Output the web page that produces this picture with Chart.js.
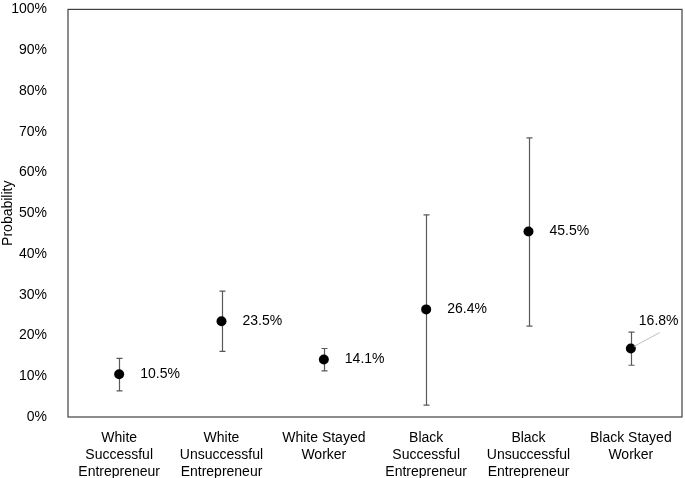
<!DOCTYPE html>
<html>
<head>
<meta charset="utf-8">
<script src="https://cdn.jsdelivr.net/npm/chart.js@4"></script>
<style>
  html, body { margin: 0; padding: 0; background: #fff; overflow: hidden; }
  #wrap { width: 685px; height: 490px; margin-top: -12px; }
</style>
</head>
<body>
<div id="wrap"><canvas id="myChart"></canvas></div>
<script>
var categories = [
    ['White', 'Successful', 'Entrepreneur'],
    ['White', 'Unsuccessful', 'Entrepreneur'],
    ['White Stayed', 'Worker'],
    ['Black', 'Successful', 'Entrepreneur'],
    ['Black', 'Unsuccessful', 'Entrepreneur'],
    ['Black Stayed', 'Worker']
];
var probability = [10.5, 23.5, 14.1, 26.4, 45.5, 16.8];
var lowerBound = [6.4, 16.1, 11.3, 2.9, 22.3, 12.7];
var upperBound = [14.4, 30.9, 16.8, 49.6, 68.5, 20.8];
var yTicks = [0, 10, 20, 30, 40, 50, 60, 70, 80, 90, 100];

var fontName = "'Liberation Sans', Arial, sans-serif";

// error bars, frame and value labels
var extras = {
    id: 'extras',
    afterDatasetsDraw: function (chart) {
        var ctx = chart.ctx;
        var x = chart.scales.x, y = chart.scales.y;
        var area = chart.chartArea;
        ctx.save();
        ctx.strokeStyle = '#595959';
        ctx.lineWidth = 1.2;
        for (var i = 0; i < probability.length; i++) {
            var px = Math.round(x.getPixelForValue(i)) + 0.5;
            var top = y.getPixelForValue(upperBound[i]);
            var bot = y.getPixelForValue(lowerBound[i]);
            ctx.beginPath();
            ctx.moveTo(px, top); ctx.lineTo(px, bot);
            ctx.moveTo(px - 3, top); ctx.lineTo(px + 3, top);
            ctx.moveTo(px - 3, bot); ctx.lineTo(px + 3, bot);
            ctx.stroke();
        }
        // points over the bars
        ctx.fillStyle = '#000';
        for (var j = 0; j < probability.length; j++) {
            ctx.beginPath();
            ctx.arc(x.getPixelForValue(j), y.getPixelForValue(probability[j]), 5, 0, Math.PI * 2);
            ctx.fill();
        }
        // value labels
        ctx.font = '14px ' + fontName;
        ctx.textBaseline = 'middle';
        ctx.textAlign = 'left';
        for (var k = 0; k < probability.length; k++) {
            var cx = x.getPixelForValue(k), cy = y.getPixelForValue(probability[k]);
            var txt = probability[k].toFixed(1) + '%';
            if (k === probability.length - 1) {
                // last label sits up and right with a leader line
                ctx.strokeStyle = '#bfbfbf';
                ctx.lineWidth = 1;
                ctx.beginPath();
                ctx.moveTo(cx + 3, cy - 2);
                ctx.lineTo(cx + 29, cy - 16);
                ctx.stroke();
                ctx.fillText(txt, cx + 8, cy - 27);
            } else {
                ctx.fillText(txt, cx + 21, cy);
            }
        }
        // frame
        ctx.strokeStyle = '#404040';
        ctx.lineWidth = 1.2;
        ctx.strokeRect(area.left, area.top, area.right - area.left, area.bottom - area.top);
        ctx.restore();
    }
};

var ctx = document.getElementById('myChart').getContext('2d');
var myChart = new Chart(ctx, {
    type: 'line',
    data: {
        labels: categories,
        datasets: [{
            label: 'Probability',
            data: probability,
            showLine: false,
            pointRadius: 0,
            pointHoverRadius: 0,
            backgroundColor: '#000',
            borderColor: '#000'
        }]
    },
    options: {
        responsive: true,
        maintainAspectRatio: false,
        animation: false,
        layout: { padding: { top: -4, right: 3, left: 0, bottom: 0 } },
        plugins: {
            legend: { display: false },
            tooltip: { enabled: false }
        },
        scales: {
            x: {
                offset: true,
                grid: { display: false },
                border: { display: false },
                ticks: {
                    color: '#000',
                    maxRotation: 0,
                    autoSkip: false,
                    padding: 5,
                    font: { family: fontName, size: 14, lineHeight: 1.2 }
                },
                afterFit: function (scale) { scale.height = 61; }
            },
            y: {
                min: 0,
                max: 100,
                grid: { display: false },
                border: { display: false },
                afterBuildTicks: function (scale) {
                    scale.ticks = yTicks.map(function (v) { return { value: v }; });
                },
                ticks: {
                    color: '#000',
                    padding: 13,
                    font: { family: fontName, size: 14 },
                    callback: function (v) { return v + '%'; }
                },
                title: {
                    display: true,
                    text: 'Probability',
                    color: '#000',
                    padding: { top: 0, bottom: 2 },
                    font: { family: fontName, size: 14 }
                },
                afterFit: function (scale) { scale.width = 68; }
            }
        }
    },
    plugins: [extras]
});
</script>
</body>
</html>
